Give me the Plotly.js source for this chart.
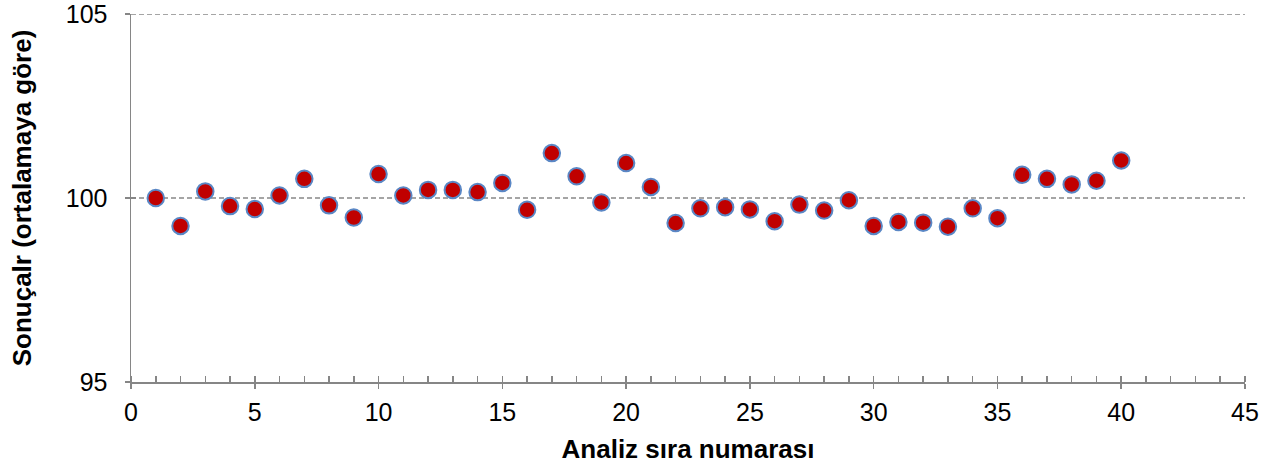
<!DOCTYPE html>
<html>
<head>
<meta charset="utf-8">
<script src="https://cdn.plot.ly/plotly-3.0.1.min.js"></script>
<style>
  html, body { margin: 0; padding: 0; background: #ffffff; }
  #chart { width: 1288px; height: 475px; }
</style>
</head>
<body>
<div id="chart"></div>
<script>
// Analysis sequence numbers and results (relative to the mean)
const analysisNo = [1, 2, 3, 4, 5, 6, 7, 8, 9, 10,
                    11, 12, 13, 14, 15, 16, 17, 18, 19, 20,
                    21, 22, 23, 24, 25, 26, 27, 28, 29, 30,
                    31, 32, 33, 34, 35, 36, 37, 38, 39, 40];
const results = [100.00, 99.24, 100.18, 99.78, 99.70, 100.07, 100.52, 99.80, 99.47, 100.65,
                 100.07, 100.22, 100.22, 100.16, 100.41, 99.68, 101.22, 100.59, 99.88, 100.95,
                 100.30, 99.32, 99.72, 99.75, 99.69, 99.37, 99.82, 99.66, 99.94, 99.24,
                 99.35, 99.33, 99.22, 99.72, 99.45, 100.63, 100.52, 100.37, 100.47, 101.02];

const xTitle = 'Analiz sıra numarası';
const yTitle = 'Sonuçalr (ortalamaya göre)';
const xRange = [0, 45];
const yRange = [95, 105];
const yStep = 5;

const axisGrey = '#868686';
const gridGrey = '#888888';
const fontFamily = '"Liberation Sans", Arial, sans-serif';

// dashed horizontal grid lines at every major y tick above the x axis (including the top edge)
const gridShapes = [];
for (let v = yRange[0] + yStep; v <= yRange[1] + 1e-9; v += yStep) {
  gridShapes.push({
    type: 'line', layer: 'below',
    xref: 'paper', x0: 0, x1: 1,
    yref: 'y', y0: v, y1: v,
    line: { color: gridGrey, width: 1.5, dash: '5px,3px' }
  });
}

const traces = [
  {
    x: analysisNo,
    y: results,
    type: 'scatter',
    mode: 'markers',
    marker: {
      size: 16.5,
      color: '#C00000',
      line: { color: '#5A87C5', width: 2 }
    },
    hoverinfo: 'x+y'
  },
  // empty trace so the overlay axes (inner half of the crossing ticks) get drawn
  { x: [], y: [], xaxis: 'x2', yaxis: 'y2', type: 'scatter', mode: 'markers', hoverinfo: 'skip', showlegend: false }
];

const layout = {
  width: 1288,
  height: 475,
  margin: { l: 131, r: 43, t: 13.5, b: 92.5 },
  paper_bgcolor: '#ffffff',
  plot_bgcolor: '#ffffff',
  showlegend: false,
  font: { family: fontFamily, color: '#000000', size: 25 },
  shapes: gridShapes,
  xaxis: {
    range: xRange,
    dtick: 5,
    tick0: 0,
    ticks: 'outside',
    ticklen: 5,
    tickwidth: 1.5,
    tickcolor: axisGrey,
    showline: true,
    linecolor: axisGrey,
    linewidth: 1.5,
    showgrid: false,
    zeroline: false,
    ticklabelstandoff: 2,
    ticklabeloverflow: 'allow',
    tickfont: { size: 25, family: fontFamily, color: '#000000' },
    minor: { dtick: 1, ticks: 'inside', ticklen: 6, tickwidth: 1.5, tickcolor: axisGrey, showgrid: false },
    title: { text: xTitle, font: { size: 26, family: fontFamily, color: '#000000', weight: 'bold' }, standoff: 15 }
  },
  yaxis: {
    range: yRange,
    dtick: yStep,
    tick0: 95,
    ticks: 'outside',
    ticklen: 5,
    tickwidth: 1.5,
    tickcolor: axisGrey,
    showline: true,
    linecolor: axisGrey,
    linewidth: 1.5,
    showgrid: false,
    zeroline: false,
    ticklabelstandoff: 12,
    ticklabeloverflow: 'allow',
    tickfont: { size: 25, family: fontFamily, color: '#000000' },
    title: { text: yTitle, font: { size: 26, family: fontFamily, color: '#000000', weight: 'bold' }, standoff: 26 }
  },
  xaxis2: {
    range: xRange,
    overlaying: 'x',
    anchor: 'y2',
    side: 'bottom',
    dtick: 5,
    tick0: 0,
    ticks: 'inside',
    ticklen: 5,
    tickwidth: 1.5,
    tickcolor: axisGrey,
    showticklabels: false,
    showgrid: false,
    showline: false,
    zeroline: false
  },
  yaxis2: {
    range: yRange,
    overlaying: 'y',
    anchor: 'x2',
    side: 'left',
    dtick: yStep,
    tick0: 95,
    ticks: 'inside',
    ticklen: 5,
    tickwidth: 1.5,
    tickcolor: axisGrey,
    showticklabels: false,
    showgrid: false,
    showline: false,
    zeroline: false
  }
};

Plotly.newPlot('chart', traces, layout, { displayModeBar: false, staticPlot: true });
</script>
</body>
</html>
